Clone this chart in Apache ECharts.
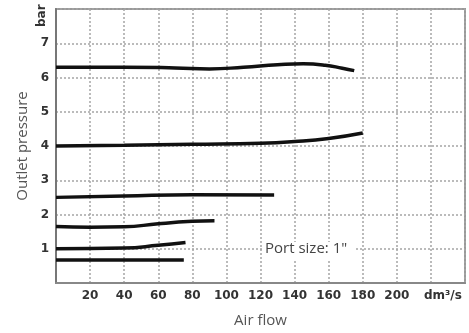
<!DOCTYPE html>
<html>
<head>
<meta charset="utf-8">
<script src="https://cdn.jsdelivr.net/npm/echarts@6/dist/echarts.min.js"></script>
<style>
html,body{margin:0;padding:0;background:#fff;}
#chart{width:469px;height:333px;}
</style>
</head>
<body>
<div id="chart"></div>
<script>
// outlet pressure (bar) vs air flow (dm3/s), one curve per set pressure
var curve1 = [[0,6.3],[40,6.3],[70,6.28],[90,6.25],[110,6.3],[130,6.37],[145,6.4],[158,6.36],[168,6.27],[175,6.2]];
var curve2 = [[0,4.0],[40,4.02],[80,4.05],[120,4.08],[140,4.13],[160,4.22],[180,4.38]];
var curve3 = [[0,2.5],[40,2.54],[80,2.58],[128,2.57]];
var curve4 = [[0,1.65],[20,1.63],[40,1.64],[60,1.73],[80,1.8],[93,1.82]];
var curve5 = [[0,1.0],[40,1.02],[60,1.1],[76,1.18]];
var curve6 = [[0,0.67],[75,0.67]];
var curves = [curve1,curve2,curve3,curve4,curve5,curve6];

var labelFont = {fontFamily:'DejaVu Sans',fontWeight:'bold',fontSize:12,color:'#333'};
var gridLine = {show:true,lineStyle:{color:'#a5a5a5',width:1.5,type:[2,2]}};
var nameFont = {fontFamily:'Open Sans',fontSize:15,color:'#555'};

var myChart=echarts.init(document.getElementById('chart'));
var option = {
    animation:false,
    grid:{
        left:56,right:4,top:9,bottom:49,
        show:true,
        borderColor:'#999',
        borderWidth:2
    },
    xAxis:{
        type:'value',
        min:0,max:240,interval:20,
        name:'Air flow',
        nameLocation:'middle',
        nameGap:30,
        nameTextStyle:nameFont,
        axisLine:{show:true,lineStyle:{color:'#888',width:2}},
        axisTick:{show:false},
        axisLabel:Object.assign({
            margin:7,
            formatter:function(v){ return (v==0||v>=220)?'':v; }
        },labelFont),
        splitLine:gridLine
    },
    yAxis:{
        type:'value',
        min:0,max:8,interval:1,
        name:'Outlet pressure',
        nameLocation:'middle',
        nameGap:26,
        nameTextStyle:nameFont,
        axisLine:{show:true,lineStyle:{color:'#777',width:2}},
        axisTick:{show:false},
        axisLabel:Object.assign({
            margin:7,
            formatter:function(v){ return (v==0||v==8)?'':v; }
        },labelFont),
        splitLine:gridLine
    },
    graphic:[
        {type:'text',z:100,left:424,top:290,style:{text:'dm³/s',font:'bold 12px "DejaVu Sans"',fill:'#333'}},
        {type:'text',z:100,x:36,y:27,rotation:Math.PI/2,style:{text:'bar',font:'bold 12px "DejaVu Sans"',fill:'#333'}},
        {type:'rect',z:99,shape:{x:263,y:242,width:92,height:19},style:{fill:'#fff'}},
        {type:'text',z:100,left:265,top:241,style:{text:'Port size: 1"',font:'15px "Open Sans"',fill:'#444'}}
    ],
    series:curves.map(function(c){
        return {
            type:'line',
            data:c,
            smooth:true,
            showSymbol:false,
            lineStyle:{color:'#111',width:3.5},
            silent:true
        };
    })
};
myChart.setOption(option);
</script>
</body>
</html>
